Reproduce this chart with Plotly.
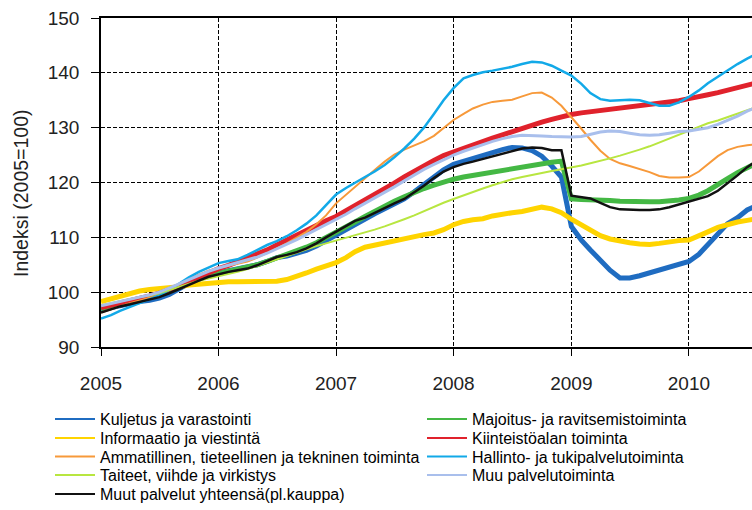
import plotly.graph_objects as go
import pandas as pd

months = pd.date_range("2005-01-01", periods=68, freq="MS")

series_names = [
    "Kuljetus ja varastointi",
    "Majoitus- ja ravitsemistoiminta",
    "Informaatio ja viestintä",
    "Kiinteistöalan toiminta",
    "Ammatillinen, tieteellinen ja tekninen toiminta",
    "Hallinto- ja tukipalvelutoiminta",
    "Taiteet, viihde ja virkistys",
    "Muu palvelutoiminta",
    "Muut palvelut yhteensä(pl.kauppa)",
]

kuljetus = [96.8, 97.2, 97.7, 98.1, 98.3, 98.5, 98.9, 99.6, 100.7, 101.6, 102.4, 103.0,
            103.5, 103.9, 104.2, 104.5, 105.0, 105.6, 106.3, 106.6, 107.0, 107.6, 108.4, 109.4,
            110.5, 111.5, 112.5, 113.4, 114.3, 115.2, 116.0, 117.0, 118.3, 119.6, 121.1, 122.3,
            123.3, 123.9, 124.4, 124.9, 125.5, 126.0, 126.4, 126.3, 125.8, 124.8, 123.0, 121.0,
            112.0, 109.5, 107.7, 105.8, 104.0, 102.6, 102.6, 103.0, 103.5, 103.9, 104.4, 105.0,
            105.6, 106.9, 108.6, 110.6, 112.5, 113.6, 115.0, 115.8]
majoitus = [97.0, 97.5, 98.0, 98.4, 98.8, 99.2, 99.6, 100.2, 100.9, 101.7, 102.4, 103.0,
            103.4, 103.7, 104.0, 104.4, 105.0, 105.6, 106.2, 106.8, 107.4, 108.2, 109.0, 109.9,
            110.8, 111.8, 112.8, 113.8, 114.8, 115.7, 116.6, 117.4, 118.2, 118.9, 119.5, 120.1,
            120.6, 121.0, 121.3, 121.6, 121.9, 122.2, 122.5, 122.8, 123.1, 123.4, 123.7, 123.9,
            117.0, 116.9, 116.9, 116.8, 116.7, 116.6, 116.5, 116.5, 116.5, 116.5, 116.6, 116.8,
            117.1, 117.7, 118.5, 119.5, 120.7, 121.8, 122.8, 123.6]
informaatio = [98.3, 98.8, 99.3, 99.8, 100.2, 100.5, 100.6, 100.8, 101.0, 101.3, 101.5, 101.7,
               101.8, 101.9, 101.9, 101.9, 101.9, 101.9, 102.0, 102.3, 102.8, 103.5, 104.2, 104.8,
               105.4, 106.3, 107.4, 108.2, 108.6, 109.0, 109.4, 109.8, 110.1, 110.5, 110.8, 111.4,
               112.3, 112.9, 113.2, 113.4, 113.9, 114.3, 114.5, 114.7, 115.2, 115.5, 115.2, 114.5,
               113.3, 112.2, 111.2, 110.3, 109.7, 109.3, 109.0, 108.8, 108.7, 108.9, 109.2, 109.4,
               109.5, 110.2, 111.0, 111.8, 112.4, 112.8, 113.1, 113.4]
kiinteisto = [97.2, 97.6, 98.0, 98.4, 98.8, 99.3, 99.8, 100.4, 101.2, 102.0, 102.8, 103.5,
              104.3, 104.9, 105.5, 106.2, 106.9, 107.7, 108.6, 109.5, 110.5, 111.4, 112.2, 113.0,
              113.8, 114.8, 115.8, 116.8, 117.8, 118.8, 119.9, 121.0, 122.1, 123.1, 124.0, 124.9,
              125.6, 126.3, 126.9, 127.5, 128.1, 128.7, 129.3, 129.9, 130.5, 131.0, 131.5, 132.0,
              132.4, 132.7, 132.9, 133.1, 133.3, 133.5, 133.7, 133.9, 134.1, 134.3, 134.6, 134.9,
              135.3, 135.6, 136.0, 136.4, 136.9, 137.3, 137.8, 138.2]
ammatillinen = [96.3, 96.9, 97.5, 98.0, 98.5, 99.0, 99.5, 100.5, 101.5, 102.4, 103.2, 103.9,
                104.4, 104.8, 105.2, 105.6, 106.3, 107.1, 108.0, 108.9, 109.9, 111.0, 112.4, 114.0,
                116.2, 117.8, 119.3, 120.8, 122.3, 123.8, 125.1, 126.0, 126.8, 127.5, 128.5, 130.0,
                131.4, 132.5, 133.5, 134.2, 134.7, 134.9, 135.1, 135.7, 136.3, 136.4, 135.5, 134.0,
                132.0, 129.8, 127.8, 125.8, 124.3, 123.5, 123.0, 122.5, 121.9, 121.2, 120.9, 120.9,
                121.0, 122.0, 123.4, 124.8, 125.9, 126.5, 126.8, 127.0]
hallinto = [95.2, 95.8, 96.6, 97.3, 98.0, 98.7, 99.4, 100.4, 101.6, 102.7, 103.7, 104.5,
            105.3, 105.7, 106.0, 106.8, 107.7, 108.6, 109.3, 110.2, 111.3, 112.5, 114.0, 115.8,
            117.8, 119.0, 120.0, 121.0, 122.0, 123.2, 124.6, 126.2, 128.0, 130.0, 132.5, 135.0,
            137.2, 139.0, 139.6, 140.1, 140.4, 140.7, 141.1, 141.6, 142.0, 141.9, 141.3, 140.4,
            139.5, 138.0, 136.3, 135.2, 134.9, 135.0, 135.1, 135.0, 134.5, 134.0, 134.0, 134.6,
            135.6, 136.8, 138.1, 139.3, 140.5, 141.6, 142.6, 143.5]
taiteet = [97.6, 98.0, 98.4, 98.8, 99.1, 99.4, 99.8, 100.4, 101.0, 101.6, 102.1, 102.5,
           102.9, 103.3, 103.7, 104.2, 104.8, 105.4, 106.0, 106.6, 107.2, 107.8, 108.4, 108.9,
           109.4, 109.9, 110.4, 110.9, 111.4, 112.0, 112.6, 113.3, 114.0, 114.8, 115.6, 116.3,
           117.0, 117.6, 118.3, 118.9, 119.5, 120.1, 120.6, 121.0, 121.4, 121.8, 122.1, 122.4,
           122.7, 123.1, 123.5, 123.9, 124.4, 124.9, 125.4, 126.0, 126.6, 127.3, 128.0, 128.7,
           129.5, 130.2, 130.8, 131.3, 131.9, 132.5, 133.2, 133.8]
muu = [97.5, 97.9, 98.3, 98.7, 99.1, 99.5, 100.0, 100.7, 101.5, 102.3, 103.1, 103.8,
       104.4, 104.9, 105.3, 105.8, 106.4, 107.1, 107.9, 108.7, 109.6, 110.5, 111.4, 112.3,
       113.2, 114.2, 115.2, 116.2, 117.2, 118.2, 119.2, 120.3, 121.4, 122.4, 123.3, 124.2,
       125.0, 125.7, 126.3, 126.9, 127.5, 128.0, 128.4, 128.6, 128.6, 128.5, 128.4, 128.3,
       128.3, 128.4, 128.8, 129.2, 129.4, 129.3, 129.0, 128.7, 128.6, 128.7, 129.0, 129.3,
       129.4, 129.7, 130.0, 130.6, 131.3, 132.1, 133.0, 133.8]
muut = [96.3, 96.9, 97.4, 97.8, 98.2, 98.6, 99.1, 99.8, 100.6, 101.4, 102.1, 102.8,
        103.3, 103.7, 104.0, 104.3, 104.9, 105.7, 106.4, 106.8, 107.3, 108.0, 108.9, 110.0,
        111.0, 112.0, 113.0, 113.6, 114.5, 115.4, 116.2, 117.0, 118.2, 119.4, 120.8, 122.0,
        122.8, 123.4, 123.8, 124.3, 124.8, 125.3, 125.8, 126.2, 126.4, 126.3, 125.9, 125.9,
        117.6, 117.4, 117.1, 116.3, 115.5, 115.1, 115.0, 115.0, 115.0, 115.1, 115.5, 116.0,
        116.4, 116.9, 117.5, 118.5, 119.8, 121.3, 122.8, 124.0]

year_ticks = ["2005-01-01", "2006-01-01", "2007-01-01", "2008-01-01", "2009-01-01", "2010-01-01"]
year_labels = ["2005", "2006", "2007", "2008", "2009", "2010"]
y_ticks = [90, 100, 110, 120, 130, 140, 150]
y_title = "Indeksi (2005=100)"

values = [kuljetus, majoitus, informaatio, kiinteisto, ammatillinen,
          hallinto, taiteet, muu, muut]
colors = ["#1f6cc1", "#44b844", "#ffd400", "#e0222c", "#f7993a",
          "#12a9e8", "#b8e640", "#a9bfec", "#111111"]
widths = [5, 5, 5, 5, 2, 2.5, 2, 3, 2.5]

fig = go.Figure()
for name, vals, c, w in zip(series_names, values, colors, widths):
    fig.add_trace(go.Scatter(x=months, y=vals, mode="lines", name=name,
                             line=dict(color=c, width=w), showlegend=False,
                             hoverinfo="skip"))

# legend entries, laid out as in the reference (row-wise, two columns)
rows = ["legend", "legend", "legend2", "legend2", "legend3", "legend3",
        "legend4", "legend4", "legend5"]
for k in range(len(series_names)):
    first_col = (k % 2 == 0)
    fig.add_trace(go.Scatter(x=[None], y=[None], mode="lines", name=series_names[k],
                             line=dict(color=colors[k], width=2),
                             legend=rows[k], legendwidth=317 if first_col else 260,
                             showlegend=True))

row_y = [419, 438, 456.5, 475, 494]
plot_top, plot_bottom, plot_left, plot_w = 18, 347, 101, 651
leg_common = dict(orientation="h", xanchor="left", yanchor="middle",
                  font=dict(family="Liberation Sans, Arial", size=16, color="#000"),
                  bgcolor="rgba(0,0,0,0)", itemwidth=40, traceorder="normal",
                  x=(50 - plot_left) / plot_w)
legends = {}
for r, name in enumerate(["legend", "legend2", "legend3", "legend4", "legend5"]):
    d = dict(leg_common)
    d["y"] = (plot_bottom - row_y[r]) / (plot_bottom - plot_top)
    legends[name] = d

fig.update_layout(
    width=752, height=510,
    margin=dict(l=plot_left, r=0, t=plot_top, b=510 - plot_bottom, autoexpand=False),
    paper_bgcolor="white", plot_bgcolor="white",
    font=dict(family="Liberation Sans, Arial", color="#000"),
    annotations=[dict(text=y_title, textangle=-90, xref="paper", yref="paper",
                      x=(21 - plot_left) / plot_w, y=(plot_bottom - 193) / (plot_bottom - plot_top),
                      xanchor="center", yanchor="middle", showarrow=False,
                      font=dict(family="Liberation Sans, Arial", size=19.5, color="#222"))],
    **legends,
)
fig.update_xaxes(
    range=["2005-01-01", "2010-07-16"],
    tickvals=year_ticks, ticktext=year_labels,
    ticks="outside", ticklen=7, tickwidth=1, tickcolor="#000",
    tickfont=dict(family="Liberation Sans, Arial", size=19, color="#222"),
    ticklabelstandoff=11,
    showline=True, linecolor="#000", linewidth=1.5, mirror=True,
    showgrid=True, gridcolor="#000", gridwidth=1, griddash="4px,2px",
    zeroline=False,
)
fig.update_yaxes(
    range=[90, 150], tickvals=y_ticks,
    ticks="outside", ticklen=8, tickwidth=1, tickcolor="#000",
    tickfont=dict(family="Liberation Sans, Arial", size=19, color="#222"),
    ticklabelstandoff=8,
    showline=True, linecolor="#000", linewidth=1.5,
    showgrid=True, gridcolor="#000", gridwidth=1, griddash="4px,2px",
    zeroline=False,
)

fig.write_html("out.html", config={"displayModeBar": False})

# remove the browser's default page margin so the figure sits at the window origin
with open("out.html", "r", encoding="utf-8") as f:
    html = f.read()
html = html.replace("<body>", '<body style="margin:0;padding:0;overflow:hidden">', 1)
with open("out.html", "w", encoding="utf-8") as f:
    f.write(html)
